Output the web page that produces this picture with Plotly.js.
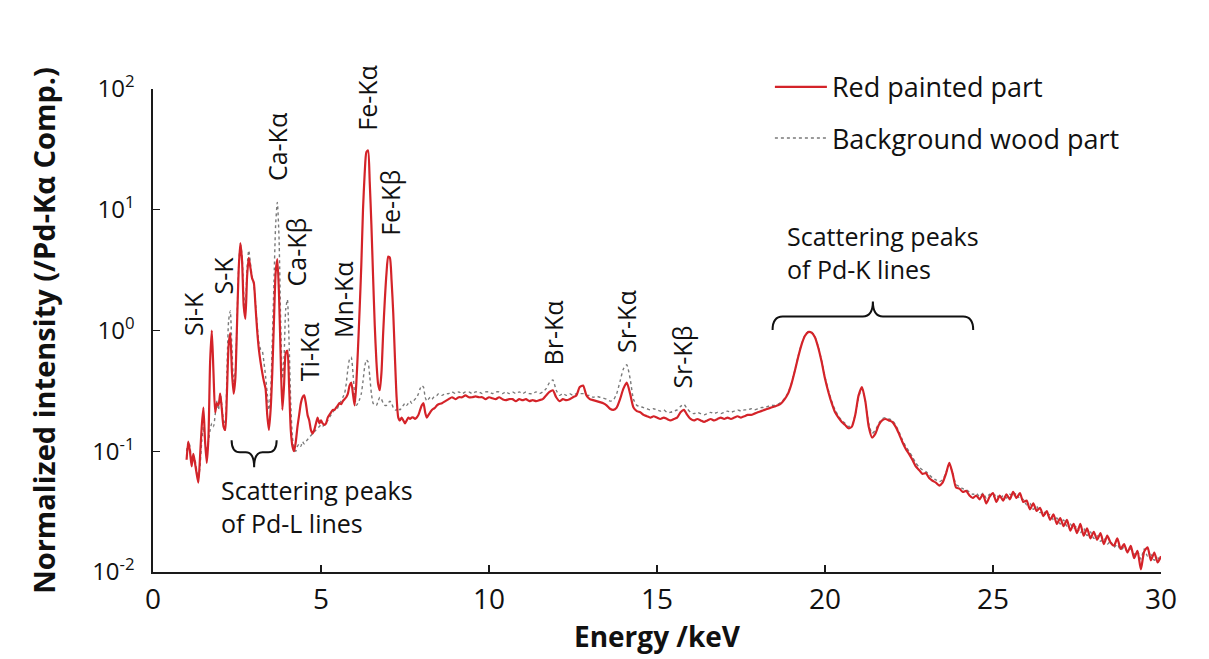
<!DOCTYPE html>
<html>
<head>
<meta charset="utf-8">
<script src="https://cdn.plot.ly/plotly-3.0.1.min.js"></script>
<style>
  html, body { margin: 0; padding: 0; background: #ffffff; }
  #chart { width: 1209px; height: 659px; }
</style>
</head>
<body>
<div id="chart"></div>
<script>
// Energy channels (keV): fine grid through the light-element / Fe region
const energyLow = [
  1.00,1.05,1.10,1.15,1.20,1.25,1.30,1.35,1.40,1.45,
  1.50,1.55,1.60,1.65,1.70,1.75,1.80,1.85,1.90,1.95,
  2.00,2.05,2.10,2.15,2.20,2.25,2.30,2.35,2.40,2.45,
  2.50,2.55,2.60,2.65,2.70,2.75,2.80,2.85,2.90,2.95,
  3.00,3.05,3.10,3.15,3.20,3.25,3.30,3.35,3.40,3.45,
  3.50,3.55,3.60,3.65,3.70,3.75,3.80,3.85,3.90,3.95,
  4.00,4.05,4.10,4.15,4.20,4.25,4.30,4.35,4.40,4.45,
  4.50,4.55,4.60,4.65,4.70,4.75,4.80,4.85,4.90,4.95,
  5.00,5.05,5.10,5.15,5.20,5.25,5.30,5.35,5.40,5.45,
  5.50,5.55,5.60,5.65,5.70,5.75,5.80,5.85,5.90,5.95,
  6.00,6.05,6.10,6.15,6.20,6.25,6.30,6.35,6.40,6.45,
  6.50,6.55,6.60,6.65,6.70,6.75,6.80,6.85,6.90,6.95,
  7.00,7.05,7.10,7.15,7.20,7.25,7.30,7.35,7.40,7.45,
  7.50,7.55,7.60,7.65,7.70,7.75,7.80,7.85,7.90,7.95,
  8.00,8.05,8.10,8.15,8.20,8.25,8.30,8.35,8.40,8.45,
  8.50
];
// Energy channels (keV): coarser grid for the rest of the spectrum
const energyHigh = [
  8.6,8.7,8.8,8.9,9.0,9.1,9.2,9.3,9.4,9.5,
  9.6,9.7,9.8,9.9,10.0,10.1,10.2,10.3,10.4,10.5,
  10.6,10.7,10.8,10.9,11.0,11.1,11.2,11.3,11.4,11.5,
  11.6,11.7,11.8,11.9,12.0,12.1,12.2,12.3,12.4,12.5,
  12.6,12.7,12.8,12.9,13.0,13.1,13.2,13.3,13.4,13.5,
  13.6,13.7,13.8,13.9,14.0,14.1,14.2,14.3,14.4,14.5,
  14.6,14.7,14.8,14.9,15.0,15.1,15.2,15.3,15.4,15.5,
  15.6,15.7,15.8,15.9,16.0,16.1,16.2,16.3,16.4,16.5,
  16.6,16.7,16.8,16.9,17.0,17.1,17.2,17.3,17.4,17.5,
  17.6,17.7,17.8,17.9,18.0,18.1,18.2,18.3,18.4,18.5,
  18.6,18.7,18.8,18.9,19.0,19.1,19.2,19.3,19.4,19.5,
  19.6,19.7,19.8,19.9,20.0,20.1,20.2,20.3,20.4,20.5,
  20.6,20.7,20.8,20.9,21.0,21.1,21.2,21.3,21.4,21.5,
  21.6,21.7,21.8,21.9,22.0,22.1,22.2,22.3,22.4,22.5,
  22.6,22.7,22.8,22.9,23.0,23.1,23.2,23.3,23.4,23.5,
  23.6,23.7,23.8,23.9,24.0,24.1,24.2,24.3,24.4,24.5,
  24.6,24.7,24.8,24.9,25.0,25.1,25.2,25.3,25.4,25.5,
  25.6,25.7,25.8,25.9,26.0,26.1,26.2,26.3,26.4,26.5,
  26.6,26.7,26.8,26.9,27.0,27.1,27.2,27.3,27.4,27.5,
  27.6,27.7,27.8,27.9,28.0,28.1,28.2,28.3,28.4,28.5,
  28.6,28.7,28.8,28.9,29.0,29.1,29.2,29.3,29.4,29.5,
  29.6,29.7,29.8,29.9,30.0
];

// Red painted part, normalized intensity
const redLow = [
  0.085,0.12,0.10,0.075,0.095,0.08,0.065,0.055,0.09,0.16,
  0.23,0.12,0.08,0.13,0.55,1.00,0.45,0.21,0.25,0.24,
  0.30,0.22,0.16,0.15,0.30,0.75,0.95,0.45,0.30,0.40,
  1.1,3.2,5.3,3.8,1.6,1.25,2.8,4.0,3.3,2.7,
  2.5,1.6,1.0,0.70,0.55,0.45,0.38,0.33,0.20,0.15,
  0.22,0.45,1.2,3.0,3.9,2.0,0.6,0.22,0.35,0.65,
  0.68,0.35,0.15,0.11,0.10,0.12,0.16,0.20,0.25,0.28,
  0.29,0.25,0.20,0.18,0.15,0.14,0.15,0.17,0.19,0.17,
  0.18,0.17,0.165,0.17,0.19,0.20,0.21,0.22,0.22,0.23,
  0.24,0.25,0.245,0.26,0.27,0.28,0.30,0.35,0.37,0.30,
  0.24,0.36,0.7,1.5,3.5,10,20,30,31,17,
  7.5,2.8,1.1,0.55,0.36,0.32,0.45,0.95,1.8,3.0,
  4.1,4.0,2.6,1.4,0.6,0.28,0.19,0.18,0.19,0.18,
  0.17,0.18,0.19,0.185,0.19,0.19,0.185,0.19,0.20,0.22,
  0.24,0.25,0.21,0.19,0.20,0.21,0.22,0.225,0.23,0.24,
  0.245
];
const redHigh = [
  0.25,0.26,0.27,0.28,0.27,0.28,0.28,0.29,0.28,0.28,
  0.285,0.28,0.28,0.27,0.28,0.275,0.27,0.28,0.27,0.265,
  0.27,0.27,0.26,0.27,0.265,0.27,0.26,0.265,0.26,0.265,
  0.27,0.29,0.31,0.32,0.28,0.26,0.27,0.265,0.27,0.28,
  0.29,0.34,0.35,0.29,0.27,0.265,0.26,0.255,0.25,0.24,
  0.225,0.22,0.23,0.27,0.33,0.37,0.30,0.23,0.215,0.21,
  0.20,0.195,0.19,0.195,0.19,0.185,0.19,0.185,0.18,0.185,
  0.19,0.21,0.22,0.20,0.185,0.18,0.185,0.18,0.175,0.18,
  0.185,0.18,0.185,0.19,0.185,0.19,0.185,0.19,0.195,0.19,
  0.195,0.20,0.20,0.205,0.21,0.215,0.22,0.225,0.23,0.235,
  0.24,0.25,0.27,0.30,0.36,0.46,0.60,0.76,0.90,0.97,
  0.96,0.88,0.72,0.55,0.40,0.31,0.25,0.21,0.19,0.175,
  0.165,0.155,0.16,0.20,0.29,0.34,0.26,0.16,0.13,0.14,
  0.165,0.18,0.185,0.18,0.175,0.16,0.14,0.12,0.105,0.095,
  0.085,0.075,0.07,0.065,0.066,0.06,0.057,0.055,0.052,0.055,
  0.065,0.08,0.065,0.05,0.049,0.046,0.047,0.043,0.041,0.043,
  0.040,0.044,0.037,0.042,0.045,0.038,0.043,0.039,0.044,0.040,
  0.046,0.041,0.045,0.038,0.039,0.033,0.037,0.032,0.034,0.029,
  0.032,0.027,0.030,0.025,0.028,0.024,0.027,0.022,0.025,0.021,
  0.025,0.020,0.023,0.019,0.0215,0.0185,0.021,0.017,0.020,0.0175,
  0.0165,0.019,0.0155,0.017,0.0145,0.0165,0.013,0.015,0.0105,0.0148,
  0.016,0.0125,0.0145,0.012,0.0135
];

// Background wood part, normalized intensity
const woodLow = [
  0.10,0.12,0.11,0.08,0.09,0.085,0.07,0.06,0.075,0.12,
  0.16,0.12,0.10,0.12,0.15,0.17,0.16,0.20,0.26,0.22,
  0.30,0.24,0.18,0.17,0.45,1.2,1.45,0.7,0.38,0.45,
  1.2,3.4,5.2,4.2,2.0,1.5,3.3,4.6,3.6,2.8,
  2.4,1.7,1.1,0.80,0.70,0.68,0.55,0.42,0.30,0.22,
  0.30,0.8,2.5,7.5,11.5,6.0,1.2,0.40,0.6,1.5,
  1.8,0.8,0.25,0.13,0.105,0.10,0.11,0.115,0.11,0.12,
  0.115,0.12,0.125,0.13,0.135,0.14,0.145,0.15,0.155,0.16,
  0.165,0.16,0.17,0.175,0.18,0.19,0.20,0.21,0.22,0.22,
  0.23,0.25,0.26,0.28,0.30,0.36,0.48,0.58,0.60,0.45,
  0.30,0.24,0.25,0.27,0.30,0.38,0.50,0.57,0.55,0.42,
  0.30,0.25,0.24,0.24,0.26,0.28,0.27,0.25,0.24,0.24,
  0.25,0.26,0.25,0.23,0.22,0.22,0.23,0.22,0.23,0.24,
  0.25,0.24,0.25,0.26,0.25,0.26,0.27,0.28,0.30,0.33,
  0.35,0.34,0.28,0.26,0.27,0.28,0.27,0.28,0.29,0.29,
  0.30
];
const woodHigh = [
  0.29,0.30,0.30,0.31,0.30,0.31,0.30,0.31,0.31,0.30,
  0.31,0.31,0.30,0.31,0.31,0.30,0.31,0.31,0.30,0.31,
  0.30,0.31,0.30,0.31,0.30,0.31,0.30,0.30,0.31,0.30,
  0.31,0.33,0.37,0.39,0.32,0.29,0.30,0.29,0.30,0.29,
  0.30,0.30,0.30,0.29,0.29,0.28,0.285,0.28,0.275,0.27,
  0.26,0.265,0.30,0.38,0.48,0.52,0.40,0.27,0.24,0.235,
  0.23,0.225,0.22,0.225,0.22,0.215,0.22,0.21,0.21,0.215,
  0.22,0.235,0.245,0.225,0.21,0.205,0.21,0.205,0.20,0.205,
  0.21,0.205,0.21,0.205,0.21,0.215,0.21,0.215,0.22,0.215,
  0.22,0.22,0.225,0.22,0.225,0.23,0.23,0.235,0.24,0.24,
  0.245,0.255,0.275,0.305,0.365,0.465,0.61,0.77,0.91,0.98,
  0.97,0.89,0.73,0.56,0.41,0.32,0.26,0.22,0.195,0.18,
  0.17,0.16,0.165,0.20,0.28,0.33,0.26,0.17,0.14,0.15,
  0.17,0.185,0.19,0.185,0.18,0.165,0.145,0.125,0.11,0.10,
  0.09,0.08,0.074,0.07,0.068,0.064,0.06,0.058,0.056,0.058,
  0.066,0.078,0.066,0.053,0.051,0.049,0.048,0.046,0.044,0.045,
  0.042,0.045,0.041,0.044,0.042,0.044,0.040,0.043,0.041,0.044,
  0.042,0.045,0.040,0.040,0.036,0.037,0.033,0.035,0.031,0.032,
  0.029,0.030,0.027,0.028,0.025,0.027,0.024,0.025,0.023,0.024,
  0.021,0.023,0.020,0.0215,0.019,0.020,0.018,0.019,0.017,0.018,
  0.016,0.017,0.0152,0.016,0.0148,0.0155,0.014,0.0148,0.0128,0.0155,
  0.0135,0.014,0.0125,0.0132,0.012
];

// Element line labels: [text, energy keV, vertical centre (fraction of plot height)]
const lineLabels = [
  ["Si-K", 1.19, 0.534],
  ["S-K", 2.07, 0.613],
  ["Ca-Kα", 3.71, 0.879],
  ["Ca-Kβ", 4.26, 0.662],
  ["Ti-Kα", 4.64, 0.457],
  ["Mn-Kα", 5.65, 0.563],
  ["Fe-Kα", 6.37, 0.982],
  ["Fe-Kβ", 7.05, 0.764],
  ["Br-Kα", 11.89, 0.495],
  ["Sr-Kα", 14.08, 0.518],
  ["Sr-Kβ", 15.76, 0.445]
];

const yTickVals = [0.01, 0.1, 1, 10, 100];
const yTickText = ["10<sup>-2</sup>", "10<sup>-1</sup>", "10<sup>0</sup>", "10<sup>1</sup>", "10<sup>2</sup>"];

const FONT = "Open Sans, Noto Sans, sans-serif";
const INK = "#111111";

// Curly brace drawn as a path: x in keV, y in plot-height fractions.
// The tip sits at the middle of the span, on the far side from the ends.
function brace(x0, x1, yEnd, yMid, yTip, q) {
  const xm = (x0 + x1) / 2;
  return "M" + x0 + "," + yEnd +
    " Q" + x0 + "," + yMid + " " + (x0 + q) + "," + yMid +
    " L" + (xm - q) + "," + yMid +
    " Q" + xm + "," + yMid + " " + xm + "," + yTip +
    " Q" + xm + "," + yMid + " " + (xm + q) + "," + yMid +
    " L" + (x1 - q) + "," + yMid +
    " Q" + x1 + "," + yMid + " " + x1 + "," + yEnd;
}

const energy = energyLow.concat(energyHigh);

const traces = [
  {
    x: energy, y: woodLow.concat(woodHigh),
    type: "scatter", mode: "lines",
    name: "Background wood part",
    legendgroup: "wood", legendrank: 2,
    line: { color: "#7a7a7a", width: 1.4, dash: "dot", shape: "spline", smoothing: 0.6 }
  },
  {
    x: energy, y: redLow.concat(redHigh),
    type: "scatter", mode: "lines",
    name: "Red painted part",
    legendgroup: "red", legendrank: 1,
    line: { color: "#d42329", width: 2.2, shape: "spline", smoothing: 0.6 }
  }
];

const annotations = lineLabels.map(function (d) {
  return {
    text: d[0], x: d[1], y: d[2], xref: "x", yref: "paper",
    textangle: -90, showarrow: false,
    xanchor: "center", yanchor: "middle",
    font: { family: FONT, size: 25, color: INK }
  };
});
annotations.push({
  text: "Scattering peaks<br>of Pd-L lines",
  x: 1.95, y: 0.135, xref: "x", yref: "paper",
  xanchor: "left", yanchor: "middle", align: "left", showarrow: false,
  font: { family: FONT, size: 25, color: INK }
});
annotations.push({
  text: "Scattering peaks<br>of Pd-K lines",
  x: 18.8, y: 0.6625, xref: "x", yref: "paper",
  xanchor: "left", yanchor: "middle", align: "left", showarrow: false,
  font: { family: FONT, size: 25, color: INK }
});

const shapes = [
  {
    type: "path", xref: "x", yref: "paper",
    path: brace(2.34, 3.68, 0.273, 0.248, 0.217, 0.25),
    line: { color: INK, width: 2 }
  },
  {
    type: "path", xref: "x", yref: "paper",
    path: brace(18.44, 24.41, 0.501, 0.529, 0.560, 0.3),
    line: { color: INK, width: 2 }
  }
];

const layout = {
  width: 1209, height: 659,
  margin: { l: 153, r: 48, t: 89, b: 87 },
  paper_bgcolor: "#ffffff", plot_bgcolor: "#ffffff",
  font: { family: FONT, color: INK },
  showlegend: true,
  legend: {
    x: 0.612, xanchor: "left", y: 1.054, yanchor: "top",
    bgcolor: "rgba(0,0,0,0)", borderwidth: 0,
    font: { family: FONT, size: 27, color: INK },
    itemwidth: 52, tracegroupgap: 13, traceorder: "grouped"
  },
  xaxis: {
    range: [0, 30], dtick: 5, tick0: 0,
    showline: true, linecolor: "#1a1a1a", linewidth: 1.6, mirror: false,
    ticks: "inside", ticklen: 7, tickwidth: 1.4, tickcolor: "#1a1a1a",
    showgrid: false, zeroline: false,
    tickfont: { family: FONT, size: 28, color: INK },
    ticklabelstandoff: 2,
    title: { text: "Energy /keV", font: { family: FONT, size: 28, color: INK, weight: "bold" }, standoff: 0 }
  },
  yaxis: {
    type: "log", range: [-2, 2],
    tickvals: yTickVals, ticktext: yTickText,
    showline: true, linecolor: "#1a1a1a", linewidth: 1.6, mirror: false,
    ticks: "inside", ticklen: 7, tickwidth: 1.4, tickcolor: "#1a1a1a",
    showgrid: false, zeroline: false,
    tickfont: { family: FONT, size: 24, color: INK },
    ticklabelstandoff: 12,
    title: { text: "Normalized intensity (/Pd-Kα Comp.)", font: { family: FONT, size: 29, color: INK, weight: "bold" }, standoff: 28 }
  },
  annotations: annotations,
  shapes: shapes
};

Plotly.newPlot("chart", traces, layout, { displayModeBar: false, staticPlot: true });
</script>
</body>
</html>
